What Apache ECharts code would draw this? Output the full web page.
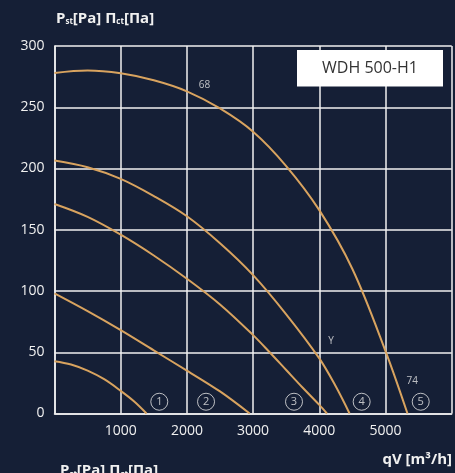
<!DOCTYPE html>
<html>
<head>
<meta charset="utf-8">
<script src="https://cdn.jsdelivr.net/npm/echarts@6/dist/echarts.min.js"></script>
<style>
html,body{margin:0;padding:0;background:#151f36;}
#c{width:455px;height:473px;}
</style>
</head>
<body>
<div id="c"></div>
<script>
// Airflow qV [m3/h] vs static pressure [Pa], curves 1..5
const curve1 = [[0,42.7],[250,40],[500,35],[750,28],[1000,18.5],[1200,10],[1390,0]];
const curve2 = [[0,98],[500,83.5],[1000,68],[1500,51.5],[2000,35],[2500,18],[2948,0]];
const curve3 = [[0,171],[500,160.5],[1000,146],[1500,129],[2000,110],[2500,89],[3000,64],[3250,50],[3500,35.5],[3750,21],[4000,7],[4115,0]];
const curve4 = [[0,206.5],[500,201],[1000,191.5],[1500,177.5],[2000,161],[2500,139],[3000,113],[3500,81],[4000,45],[4250,22],[4457,0]];
const curve5 = [[0,278],[500,280],[1000,277.7],[1500,272],[2000,263],[2500,249],[3000,230],[3500,202],[4000,166],[4500,118],[5000,51],[5332,0]];
const curveMarks = [["1",1583,9.6],["2",2289,9.6],["3",3618,9.6],["4",4640,9.6],["5",5532,9.6]];
const textMarks = [["68",2266,268],["Y",4177,59.2],["74",5405,26.8]];
const xTicks = [0,1000,2000,3000,4000,5000,6000];
const yTicks = [0,50,100,150,200,250,300];

const FONT = '"Open Sans", sans-serif';
const CURVE_COLOR = '#d8a35f';
const curves = [curve1, curve2, curve3, curve4, curve5];

const chart = echarts.init(document.getElementById('c'), null, {renderer:'canvas'});
const series = curves.map(d => ({
  type:'line', data:d, smooth:0.35, showSymbol:false, silent:true,
  lineStyle:{color:CURVE_COLOR, width:2}, z:3
}));
series.push({
  type:'scatter', silent:true, z:4,
  data: curveMarks.map(m => ({value:[m[1],m[2]], name:m[0]})),
  symbol:'circle', symbolSize:17,
  itemStyle:{color:'rgba(0,0,0,0)', borderColor:'#e6e6e6', borderWidth:1},
  label:{show:true, position:'inside', formatter:p=>p.name, color:'#e6e6e6', fontSize:11, fontFamily:FONT}
});
series.push({
  type:'scatter', silent:true, z:4,
  data: textMarks.map(m => ({value:[m[1],m[2]], name:m[0]})),
  symbolSize:0,
  label:{show:true, position:'inside', formatter:p=>p.name, color:'#e6e6e6', fontSize:10, fontFamily:FONT}
});

chart.setOption({
  backgroundColor:'#151f36',
  animation:false,
  grid:{left:54.5, right:3.3, top:46, bottom:59.5, containLabel:false},
  xAxis:{
    type:'value', min:xTicks[0], max:xTicks[xTicks.length-1], interval:1000,
    axisLine:{show:true, lineStyle:{color:'#f0f0f0', width:1.5}},
    axisTick:{show:false},
    splitLine:{show:true, lineStyle:{color:'#f0f0f0', width:1.5}},
    axisLabel:{color:'#f0f0f0', fontSize:14, fontFamily:FONT, margin:11,
      formatter:v => (v===xTicks[0]||v===xTicks[xTicks.length-1]) ? '' : String(v)}
  },
  yAxis:{
    type:'value', min:yTicks[0], max:yTicks[yTicks.length-1], interval:50,
    axisLine:{show:true, lineStyle:{color:'#f0f0f0', width:1.5}},
    axisTick:{show:false},
    splitLine:{show:true, lineStyle:{color:'#f0f0f0', width:1.5}},
    axisLabel:{color:'#f0f0f0', fontSize:14, fontFamily:FONT, margin:10}
  },
  graphic:[
    {type:'rect', shape:{x:297, y:50, width:146, height:36.5}, style:{fill:'#ffffff'}, z:10},
    {type:'text', x:370, y:68.5, z:11, style:{text:'WDH 500-H1', fill:'#333333', font:'16px "Open Sans", sans-serif', align:'center', verticalAlign:'middle'}},
    {type:'text', x:56, y:26, z:11, style:{
      text:'{a|P}{s|st}{a|[Pa] Π}{s|ct}{a|[Πa]}', align:'left', verticalAlign:'bottom',
      rich:{a:{fontSize:15, fontWeight:'bold', fontFamily:FONT, fill:'#f0f0f0', verticalAlign:'bottom', lineHeight:18},
            s:{fontSize:8, fontWeight:'bold', fontFamily:FONT, fill:'#f0f0f0', verticalAlign:'bottom', lineHeight:14}}
    }},
    {type:'text', x:60, y:478.5, z:11, style:{
      text:'{a|P}{s|st}{a|[Pa] Π}{s|ct}{a|[Πa]}', align:'left', verticalAlign:'bottom',
      rich:{a:{fontSize:15, fontWeight:'bold', fontFamily:FONT, fill:'#f0f0f0', verticalAlign:'bottom', lineHeight:18},
            s:{fontSize:8, fontWeight:'bold', fontFamily:FONT, fill:'#f0f0f0', verticalAlign:'bottom', lineHeight:14}}
    }},
    {type:'text', x:452, y:460, z:11, style:{text:'qV [m³/h]', fill:'#f0f0f0', font:'bold 15px "Open Sans", sans-serif', align:'right', verticalAlign:'middle'}},
    {type:'text', x:445, y:-8, z:11, style:{text:'qV [m³/h]', fill:'#f0f0f0', font:'bold 15px "Open Sans", sans-serif', align:'right', verticalAlign:'middle'}}
  ],
  series:series
});
</script>
</body>
</html>
